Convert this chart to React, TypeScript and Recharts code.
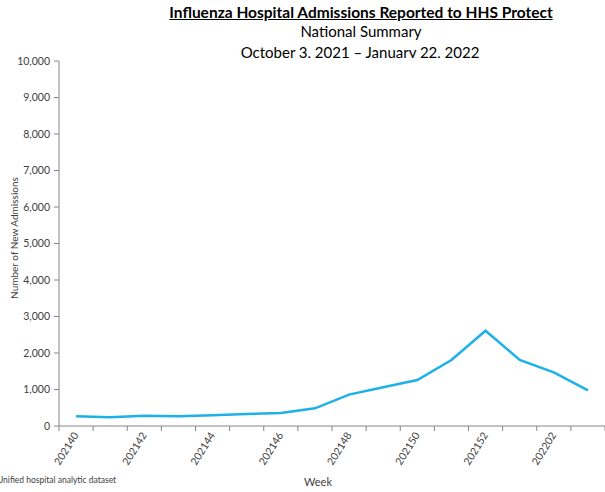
import React from "react";
import { LineChart, Line, XAxis, YAxis } from "recharts";

// 週ごとの入院数
const weeks = [
  "202140", "202141", "202142", "202143", "202144", "202145", "202146", "202147",
  "202148", "202149", "202150", "202151", "202152", "202201", "202202", "202203",
];
const admissions = [265, 238, 282, 266, 293, 329, 356, 485, 860, 1060, 1260, 1808, 2611, 1808, 1471, 978];
const yTicks = [0, 1000, 2000, 3000, 4000, 5000, 6000, 7000, 8000, 9000, 10000];

const FONT = "Lato, 'Open Sans', sans-serif";

const data = weeks.map((week, i) => ({ pos: i + 0.5, week, value: admissions[i] }));

// 区切り線は整数位置、ラベルは偶数番目の週の中央
const xTicks = [
  ...weeks.map((_, i) => i),
  weeks.length,
  ...weeks.map((_, i) => i + 0.5).filter((_, i) => i % 2 === 0),
];

const WeekTick = (props: any) => {
  const { x, y, payload } = props;
  const v = payload.value as number;
  if (Number.isInteger(v)) {
    return <line x1={x} x2={x} y1={y} y2={y + 5} stroke="#868686" strokeWidth={1} />;
  }
  const label = weeks[v - 0.5];
  return (
    <text
      x={x + 3}
      y={y + 9}
      textAnchor="end"
      fontSize={10.5}
      fill="#404040"
      fontFamily={FONT}
      transform={`rotate(-58, ${x + 3}, ${y + 9})`}
    >
      {label}
    </text>
  );
};

export default function App() {
  return (
    <div style={{ position: "absolute", left: 0, top: 0, width: 605, height: 492, background: "#fff", overflow: "hidden", fontFamily: FONT }}>
      <LineChart width={605} height={492} data={data} margin={{ top: 61, right: 0, bottom: 0, left: 0 }}>
        <XAxis
          type="number"
          dataKey="pos"
          domain={[0, weeks.length]}
          ticks={xTicks}
          interval={0}
          tickLine={false}
          tickSize={0}
          tickMargin={0}
          height={66}
          axisLine={{ stroke: "#868686" }}
          tick={<WeekTick />}
        />
        <YAxis
          domain={[0, 10000]}
          ticks={yTicks}
          interval={0}
          width={59}
          tickSize={5}
          tickMargin={4}
          axisLine={{ stroke: "#868686" }}
          tickLine={{ stroke: "#868686" }}
          tick={{ fontSize: 10.5, fill: "#404040", fontFamily: FONT }}
          tickFormatter={(v: number) => v.toLocaleString("en-US")}
        />
        <Line
          type="linear"
          dataKey="value"
          stroke="#1db1e9"
          strokeWidth={2.5}
          dot={false}
          isAnimationActive={false}
        />
      </LineChart>

      <div style={{ position: "absolute", left: 0, top: 0, width: 605, height: 58, overflow: "hidden", textAlign: "center", color: "#000" }}>
        <div style={{ position: "absolute", left: 161, width: 400, top: 3, fontSize: 15.5, fontWeight: 700, textDecoration: "underline", lineHeight: "18px" }}>
          Influenza Hospital Admissions Reported to HHS Protect
        </div>
        <div style={{ position: "absolute", left: 161, width: 400, top: 22, fontSize: 15, lineHeight: "18px" }}>
          National Summary
        </div>
        <div style={{ position: "absolute", left: 160, width: 400, top: 43, fontSize: 15, lineHeight: "18px" }}>
          October 3, 2021 – January 22, 2022
        </div>
      </div>

      <div style={{ position: "absolute", left: 14, top: 238, transform: "translate(-50%, -50%) rotate(-90deg)", whiteSpace: "nowrap", fontSize: 10, color: "#404040" }}>
        Number of New Admissions
      </div>
      <div style={{ position: "absolute", left: 318, top: 481, transform: "translate(-50%, -50%)", fontSize: 11, color: "#404040" }}>
        Week
      </div>
      <div style={{ position: "absolute", left: -3, top: 480, transform: "translateY(-50%)", whiteSpace: "nowrap", fontSize: 8.5, color: "#404040" }}>
        Unified hospital analytic dataset
      </div>
    </div>
  );
}
